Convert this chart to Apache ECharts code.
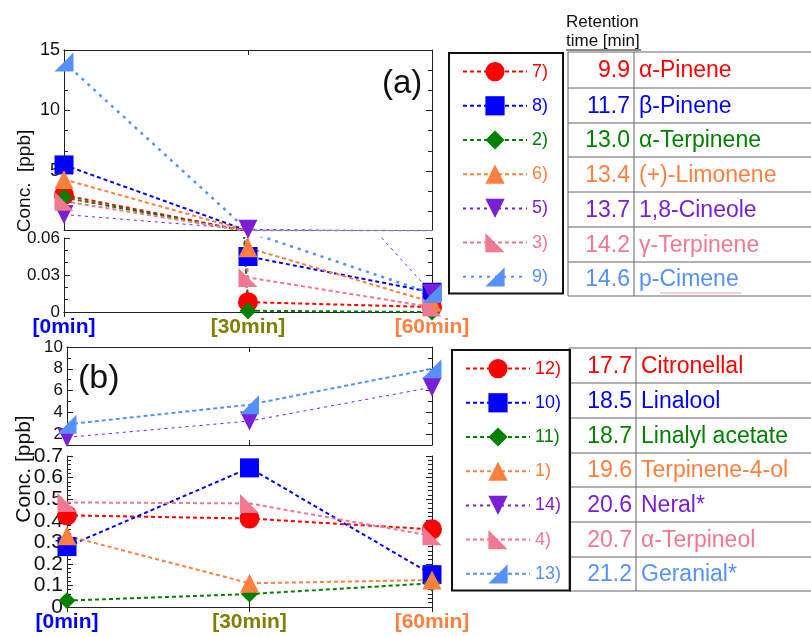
<!DOCTYPE html>
<html>
<head>
<meta charset="utf-8">
<script src="https://cdn.jsdelivr.net/npm/echarts@6/dist/echarts.min.js"></script>
<style>html,body{margin:0;padding:0;background:#fff}#chart{width:811px;height:637px}</style>
</head>
<body>
<div id="chart"></div>
<script>
const times = ['[0min]', '[30min]', '[60min]'];
const timeColors = ['#0000ff', '#808000', '#ff7f3f'];

// panel (a)
const peaksA = ['7)', '8)', '2)', '6)', '5)', '3)', '9)'];
const rtA = ['9.9', '11.7', '13.0', '13.4', '13.7', '14.2', '14.6'];
const namesA = ['α-Pinene', 'β-Pinene', 'α-Terpinene', '(+)-Limonene', '1,8-Cineole', 'γ-Terpinene', 'p-Cimene'];
const valuesA = [
  [3.0, 0.008, 0.004],
  [5.5, 0.045, 0.016],
  [2.8, 0.001, 0.0],
  [4.3, 0.052, 0.008],
  [1.4, 0.18, 0.015],
  [2.5, 0.028, 0.004],
  [14.0, 0.065, 0.015]
];

// panel (b)
const peaksB = ['12)', '10)', '11)', '1)', '14)', '4)', '13)'];
const rtB = ['17.7', '18.5', '18.7', '19.6', '20.6', '20.7', '21.2'];
const namesB = ['Citronellal', 'Linalool', 'Linalyl acetate', 'Terpinene-4-ol', 'Neral*', 'α-Terpineol', 'Geranial*'];
const valuesB = [
  [0.425, 0.41, 0.36],
  [0.28, 0.645, 0.15],
  [0.03, 0.06, 0.11],
  [0.33, 0.11, 0.125],
  [1.7, 3.2, 6.3],
  [0.485, 0.48, 0.33],
  [2.9, 4.7, 8.0]
];

const colors = ['#ff0000', '#0000ff', '#008000', '#ff7f3f', '#7a1fd6', '#f07890', '#5590ff'];
const symbols = ['circle', 'rect', 'diamond', 'triangle', 'triangle', 'path://M0,0L0,1L1,1Z', 'path://M1,0L1,1L0,1Z'];
const rotations = [0, 0, 0, 0, 180, 0, 0];
const sizes = [20, 19, 17, 19, 19, 19, 19];

const font = '"Liberation Sans", Arial, sans-serif';
const axisColor = '#222';

const grids = [
  {left: 64, top: 50, width: 368, height: 180},
  {left: 64, top: 238, width: 368, height: 74},
  {left: 67, top: 347, width: 365, height: 98},
  {left: 67, top: 456, width: 365, height: 151}
];
const yCfg = [
  {min: 0.12, max: 15, splitNumber: 3, minor: 3, fontSize: 18, hideMin: true},
  {min: 0, max: 0.06, interval: 0.03, minor: 3, fontSize: 17},
  {min: 1, max: 10, splitNumber: 5, minor: 2, fontSize: 17, hideMin: true},
  {min: 0, max: 0.7, interval: 0.1, minor: 5, fontSize: 21}
];

let xAxes = [], yAxes = [];
grids.forEach((g, i) => {
  ['bottom', 'top'].forEach(pos => {
    xAxes.push({
      gridIndex: i, type: 'category', data: times, boundaryGap: false, position: pos,
      axisLine: {lineStyle: {color: axisColor, width: 1}},
      axisTick: {inside: true, length: 5, lineStyle: {color: axisColor}},
      axisLabel: {
        show: pos === 'bottom' && (i === 1 || i === 3), interval: 0,
        fontSize: 21, fontWeight: 'bold', fontFamily: font, margin: 5,
        color: (v, idx) => timeColors[idx]
      },
      splitLine: {show: false}
    });
  });
  const c = yCfg[i];
  ['left', 'right'].forEach(pos => {
    let ax = {
      gridIndex: i, type: 'value', position: pos, min: c.min, max: c.max,
      axisLine: {show: true, lineStyle: {color: axisColor, width: 1}},
      axisTick: {show: true, inside: true, length: 6, lineStyle: {color: axisColor}},
      minorTick: {show: true, splitNumber: c.minor, length: 4, lineStyle: {color: axisColor}},
      axisLabel: {show: pos === 'left', fontSize: c.fontSize, fontFamily: font, color: '#111', margin: 4,
        showMinLabel: !c.hideMin},
      splitLine: {show: false}
    };
    if (c.interval) ax.interval = c.interval;
    if (c.splitNumber) ax.splitNumber = c.splitNumber;
    yAxes.push(ax);
  });
});

function makeSeries(peaks, values, gridList, dotted) {
  let out = [];
  gridList.forEach(gi => {
    peaks.forEach((p, k) => {
      let ls = {color: colors[k], width: 2, type: [4, 3]};
      if (k === 4) ls = {color: colors[k], width: 1, type: [3, 4]};
      if (k === 6 && dotted) ls = {color: colors[k], width: 2.5, type: [3, 5]};
      out.push({
        type: 'line', name: p, data: values[k],
        xAxisIndex: gi * 2, yAxisIndex: gi * 2,
        symbol: symbols[k], symbolSize: sizes[k], symbolRotate: rotations[k],
        itemStyle: {color: colors[k]},
        lineStyle: ls,
        clip: true, animation: false
      });
    });
  });
  return out;
}
const series = makeSeries(peaksA, valuesA, [0, 1], true).concat(makeSeries(peaksB, valuesB, [2, 3], false));

function legendFor(peaks, left, top, padRight) {
  return {
    data: peaks.map((p, i) => ({name: p, textStyle: {color: colors[i]}})),
    orient: 'vertical', left: left, top: top,
    padding: [9, padRight, 7, 13],
    itemWidth: 64, itemHeight: 24, itemGap: 15,
    borderColor: '#111', borderWidth: 2, borderRadius: 0,
    textStyle: {fontSize: 18, fontFamily: font},
    selectedMode: false
  };
}

function tableGraphics(x0, x1, ys, rts, names) {
  let els = [];
  ys.forEach(y => els.push({type: 'line', shape: {x1: x0, y1: y, x2: 811, y2: y}, style: {stroke: '#666', lineWidth: 1}}));
  [x0, x1].forEach(x => els.push({type: 'line', shape: {x1: x, y1: ys[0], x2: x, y2: ys[ys.length - 1]}, style: {stroke: '#666', lineWidth: 1}}));
  for (let i = 0; i < rts.length; i++) {
    const yc = (ys[i] + ys[i + 1]) / 2 + 1;
    els.push({type: 'text', x: x1 - 4, y: yc, style: {text: rts[i], fill: colors[i], font: '23px ' + font,
      align: 'right', textAlign: 'right', verticalAlign: 'middle', textVerticalAlign: 'middle'}});
    els.push({type: 'text', x: x1 + 5, y: yc, style: {text: names[i], fill: colors[i], font: '23px ' + font,
      align: 'left', textAlign: 'left', verticalAlign: 'middle', textVerticalAlign: 'middle'}});
  }
  return els;
}

function vText(text, x, y, size) {
  return {type: 'text', x: x, y: y, rotation: Math.PI / 2,
    style: {text: text, fill: '#111', font: size + 'px ' + font, align: 'center', textAlign: 'center',
      verticalAlign: 'middle', textVerticalAlign: 'middle'}};
}

const graphics = [].concat(
  tableGraphics(568, 634, [52, 88, 123, 157, 192, 227, 262, 296], rtA, namesA),
  tableGraphics(569, 636, [348, 383, 418, 453, 487, 522, 557, 591], rtB, namesB),
  [
    {type: 'text', x: 566, y: 22, style: {text: 'Retention', fill: '#111', font: '17px ' + font, verticalAlign: 'middle', textVerticalAlign: 'middle'}},
    {type: 'text', x: 566, y: 41, style: {text: 'time [min]', fill: '#111', font: '17px ' + font, verticalAlign: 'middle', textVerticalAlign: 'middle'}},
    {type: 'line', shape: {x1: 566, y1: 50, x2: 641, y2: 50}, style: {stroke: '#111', lineWidth: 1}},
    {type: 'line', shape: {x1: 660, y1: 293, x2: 741, y2: 293}, style: {stroke: '#f3a0a8', lineWidth: 1}},
    vText('Conc.  [ppb]', 25, 181, 19),
    vText('Conc. [ppb]', 24, 469, 21)
  ]
);

const chart = echarts.init(document.getElementById('chart'));
chart.setOption({
  animation: false,
  textStyle: {fontFamily: font},
  title: [
    {text: '(a)', left: 382, top: 67, padding: 0, textStyle: {fontSize: 33, fontWeight: 'normal', color: '#111', fontFamily: font}},
    {text: '(b)', left: 78, top: 362, padding: 0, textStyle: {fontSize: 34, fontWeight: 'normal', color: '#111', fontFamily: font}}
  ],
  grid: grids,
  xAxis: xAxes,
  yAxis: yAxes,
  legend: [legendFor(peaksA, 449, 53, 15), legendFor(peaksB, 452, 350, 9)],
  graphic: graphics,
  series: series
});
</script>
</body>
</html>
